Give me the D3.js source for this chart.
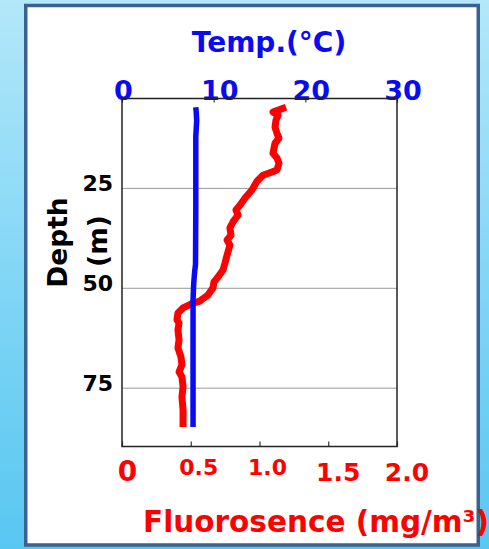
<!DOCTYPE html>
<html>
<head>
<meta charset="utf-8">
<script src="https://cdn.jsdelivr.net/npm/d3@7"></script>
<style>
	html, body { margin: 0; padding: 0; overflow: hidden; }
	svg { display: block; }
</style>
</head>
<body>
<div id="chart"></div>
<script>
// depth profile: temperature (top axis) and fluorescence (bottom axis)
var tempTicks = [0, 10, 20, 30];
var tempTickLabels = ["0", "10", "20", "30"];
var fluorTicks = [0, 0.5, 1.0, 1.5, 2.0];
var fluorTickLabels = ["0", "0.5", "1.0", "1.5", "2.0"];
var depthTicks = [25, 50, 75];
var depthTickLabels = ["25", "50", "75"];

var tempDepth = [4.7, 6, 8, 10, 12, 20, 30, 44, 46, 48, 50, 53, 60, 70, 84.7];
var tempValues = [8.05, 8.1, 8.15, 8.1, 8.05, 8.05, 8.05, 8.02, 7.92, 7.85, 7.8, 7.75, 7.75, 7.75, 7.75];

var fluorDepth = [4.7, 5.9, 6.7, 7.9, 9.7, 11.2, 12.4, 13.7, 16.2, 17.4, 18.7, 20.4, 20.9, 21.7,
	23.2, 25.4, 27.4, 29.2, 30.4, 31.7, 33.4, 34.9, 36.7, 37.9, 39.2, 41.7, 43.7, 45.4, 47.2,
	48.4, 49.9, 51.7, 53.2, 53.7, 54.9, 56.2, 57.9, 58.7, 60.4, 62.9, 64.9, 67.2, 69.2, 70.9,
	72.2, 74.7, 77.2, 80.4, 84.7];
var fluorValues = [1.193, 1.098, 1.135, 1.12, 1.113, 1.127, 1.142, 1.113, 1.098, 1.127, 1.142, 1.127, 1.091, 1.025,
	0.982, 0.945, 0.895, 0.858, 0.829, 0.844, 0.807, 0.785, 0.793, 0.764, 0.785, 0.764, 0.749, 0.735, 0.698,
	0.669, 0.662, 0.625, 0.567, 0.516, 0.444, 0.407, 0.4, 0.415, 0.407, 0.415, 0.407, 0.429, 0.436, 0.415,
	0.436, 0.444, 0.436, 0.444, 0.444];

var W = 489, H = 549;
var FONT = "'DejaVu Sans', Verdana, sans-serif";
var BLUE = "#0a0af5", RED = "#ff0000";
var plotL = 122, plotR = 397, plotT = 98.5, plotB = 446.5;

var svg = d3.select("#chart").append("svg")
	.attr("width", W)
	.attr("height", H);
var defs = svg.append("defs");

var bg = defs.append("linearGradient")
	.attr("id", "bg")
	.attr("x1", 0).attr("y1", 0)
	.attr("x2", 0).attr("y2", 1);
bg.append("stop").attr("offset", "0%").attr("stop-color", "#b3e7f9");
bg.append("stop").attr("offset", "45%").attr("stop-color", "#86d8f6");
bg.append("stop").attr("offset", "100%").attr("stop-color", "#58c7f1");

svg.append("rect")
	.attr("width", W)
	.attr("height", H)
	.attr("fill", "url(#bg)");

// white panel
svg.append("rect")
	.attr("x", 25.75)
	.attr("y", 5.5)
	.attr("width", 452.5)
	.attr("height", 539.5)
	.attr("fill", "#ffffff")
	.attr("stroke", "#3c6190")
	.attr("stroke-width", 3.5);

var xTemp = d3.scaleLinear().domain([0, 30]).range([plotL, plotR]);
var xFluor = d3.scaleLinear().domain([0, 2]).range([plotL, plotR]);
var yDepth = d3.scaleLinear().domain([2.5, 89.6]).range([plotT, plotB]);

// grid
svg.append("g")
	.selectAll("line")
	.data(depthTicks)
	.enter().append("line")
	.attr("x1", plotL)
	.attr("x2", plotR)
	.attr("y1", function (d) { return yDepth(d); })
	.attr("y2", function (d) { return yDepth(d); })
	.attr("stroke", "#9a9a9a")
	.attr("stroke-width", 1);

// top axis (temperature)
var topAxis = svg.append("g")
	.attr("transform", "translate(0," + plotT + ")")
	.call(d3.axisTop(xTemp).tickValues(tempTicks).tickSize(-4).tickSizeOuter(0)
		.tickFormat(function (d, i) { return tempTickLabels[i]; }));
topAxis.select(".domain").remove();
topAxis.selectAll("line").attr("stroke", "#333").attr("stroke-width", 1.2);
topAxis.selectAll("text")
	.attr("y", 1.5)
	.attr("dy", 0)
	.attr("dx", function (d, i) { return i === 0 ? 1 : 5.5; })
	.attr("fill", BLUE)
	.style("font", "bold 27px " + FONT);

// bottom axis (fluorescence)
var botAxis = svg.append("g")
	.attr("transform", "translate(0," + plotB + ")")
	.call(d3.axisBottom(xFluor).tickValues(fluorTicks).tickSize(-5).tickSizeOuter(0)
		.tickFormat(function (d, i) { return fluorTickLabels[i]; }));
botAxis.select(".domain").remove();
botAxis.selectAll("line").attr("stroke", "#333").attr("stroke-width", 1.2);
botAxis.selectAll("text")
	.attr("y", function (d, i) { return (i === 1 || i === 2) ? 28.5 : 34; })
	.attr("dy", 0)
	.attr("dx", function (d, i) { return i === 0 ? 5 : (i < 3 ? 7.5 : 9.5); })
	.attr("fill", RED)
	.style("font", function (d, i) {
		return "bold " + (i === 0 ? 28 : (i < 3 ? 22 : 25)) + "px " + FONT;
	});

// left axis (depth)
var leftAxis = svg.append("g")
	.attr("transform", "translate(" + plotL + ",0)")
	.call(d3.axisLeft(yDepth).tickValues(depthTicks).tickSize(0).tickSizeOuter(0)
		.tickFormat(function (d, i) { return depthTickLabels[i]; }));
leftAxis.select(".domain").remove();
leftAxis.selectAll("text")
	.attr("x", -9)
	.attr("dy", 2)
	.attr("fill", "#000")
	.style("font", "bold 22px " + FONT);

// frame
svg.append("rect")
	.attr("x", plotL)
	.attr("y", plotT)
	.attr("width", plotR - plotL)
	.attr("height", plotB - plotT)
	.attr("fill", "none")
	.attr("stroke", "#222")
	.attr("stroke-width", 1.5);

// series
var fluorLine = d3.line()
	.x(function (d, i) { return xFluor(fluorValues[i]); })
	.y(function (d) { return yDepth(d); });
svg.append("path")
	.attr("d", fluorLine(fluorDepth))
	.attr("fill", "none")
	.attr("stroke", RED)
	.attr("stroke-width", 7)
	.attr("stroke-linejoin", "round")
	.attr("stroke-linecap", "butt");

var tempLine = d3.line()
	.x(function (d, i) { return xTemp(tempValues[i]); })
	.y(function (d) { return yDepth(d); });
svg.append("path")
	.attr("d", tempLine(tempDepth))
	.attr("fill", "none")
	.attr("stroke", BLUE)
	.attr("stroke-width", 5.5)
	.attr("stroke-linejoin", "round");

// titles
svg.append("text")
	.attr("x", 269)
	.attr("y", 52)
	.attr("text-anchor", "middle")
	.attr("fill", BLUE)
	.style("font", "bold 28px " + FONT)
	.text("Temp.(°C)");

svg.append("text")
	.attr("x", 143)
	.attr("y", 532)
	.attr("fill", RED)
	.style("font", "bold 29.5px " + FONT)
	.text("Fluorosence (mg/m³)");

svg.append("text")
	.attr("transform", "translate(67,242.5) rotate(-90)")
	.attr("text-anchor", "middle")
	.attr("fill", "#000")
	.style("font", "bold 26.5px " + FONT)
	.text("Depth");

svg.append("text")
	.attr("transform", "translate(107,241) rotate(-90)")
	.attr("text-anchor", "middle")
	.attr("fill", "#000")
	.style("font", "bold 26.5px " + FONT)
	.text("(m)");
</script>
</body>
</html>
